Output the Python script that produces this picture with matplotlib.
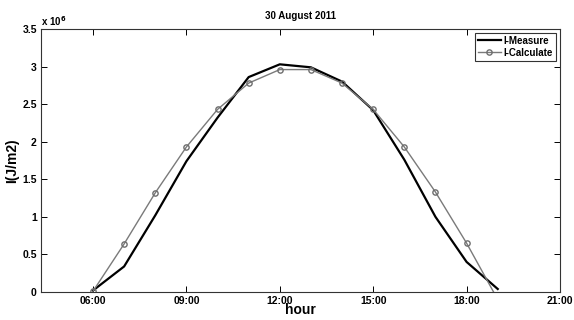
import matplotlib
matplotlib.use("Agg")
import matplotlib.pyplot as plt

plt.rcParams['font.family'] = ['Liberation Sans', 'DejaVu Sans']
plt.rcParams['font.weight'] = 'bold'

hours = [6, 7, 8, 9, 10, 11, 12, 13, 14, 15, 16, 17, 18, 19]
i_measure = [0.02, 0.34, 1.02, 1.74, 2.32, 2.86, 3.03, 2.99, 2.80, 2.42, 1.76, 1.00, 0.40, 0.04]
i_calculate = [0.01, 0.64, 1.32, 1.93, 2.43, 2.78, 2.96, 2.96, 2.78, 2.43, 1.93, 1.33, 0.65, -0.10]
xticks = [6, 9, 12, 15, 18, 21]
xtick_labels = ["06:00", "09:00", "12:00", "15:00", "18:00", "21:00"]
yticks = [0, 0.5, 1, 1.5, 2, 2.5, 3, 3.5]
ytick_labels = ["0", "0.5", "1", "1.5", "2", "2.5", "3", "3.5"]

fig = plt.figure(figsize=(5.74, 3.2), dpi=100)
ax = fig.add_axes([41/574, 28/320, (560-41)/574, (292-29)/320])

ax.plot(hours, i_measure, color='black', lw=1.6, label='I-Measure')
ax.plot(hours, i_calculate, color='#7a7a7a', lw=1.0, marker='o', ms=3.8,
        mfc='none', mec='#6e6e6e', mew=1.0, label='I-Calculate')

ax.set_xlim(4.33, 21)
ax.set_ylim(0, 3.5)
ax.set_xticks(xticks)
ax.set_xticklabels(xtick_labels)
ax.set_yticks(yticks)
ax.set_yticklabels(ytick_labels)
ax.tick_params(direction='in', top=True, right=True, labelsize=7.5, length=4, width=0.7, pad=3)
for lbl in ax.get_xticklabels() + ax.get_yticklabels():
    lbl.set_fontweight('bold')
for s in ax.spines.values():
    s.set_linewidth(0.8)
    s.set_color('#333333')

ax.set_xlabel('hour', fontsize=10, fontweight='bold', labelpad=-2)
ax.set_ylabel('I(J/m2)', fontsize=10, fontweight='bold', labelpad=2)
ax.set_title('30 August 2011', fontsize=7, fontweight='bold', pad=7)
ax.text(0.0, 1.005, r'x 10$^6$', transform=ax.transAxes, fontsize=7, fontweight='bold',
        ha='left', va='bottom')

leg = ax.legend(loc='upper right', fontsize=7, frameon=True, fancybox=False,
                borderpad=0.3, handlelength=2.4, handletextpad=0.3, labelspacing=0.2,
                borderaxespad=0.4)
leg.get_frame().set_edgecolor('black')
leg.get_frame().set_linewidth(0.8)
for t in leg.get_texts():
    t.set_fontweight('bold')

fig.savefig('out.png', dpi=100)
